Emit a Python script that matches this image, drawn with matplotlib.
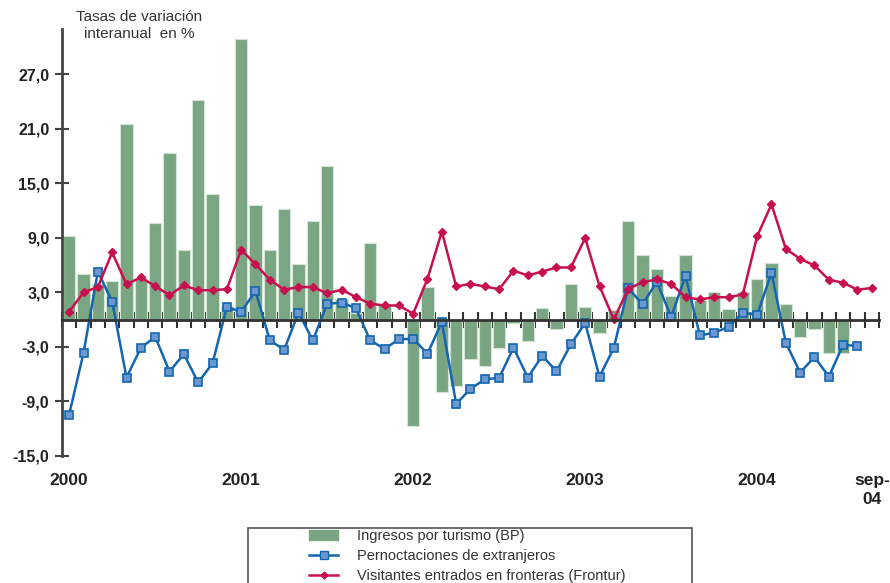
import numpy as np
import matplotlib
matplotlib.use("Agg")
import matplotlib.pyplot as plt
from matplotlib.patches import Rectangle
from matplotlib.lines import Line2D
from matplotlib.patches import Patch

plt.rcParams['font.family'] = ['Liberation Sans', 'DejaVu Sans']

# Monthly data, Jan 2000 - Sep 2004
ingresos = [9.2, 5.05, 3.9, 4.3, 21.5, 4.6, 10.7, 18.3, 7.7, 24.2, 13.8, 1.5,
            30.9, 12.6, 7.65, 12.15, 6.15, 10.9, 16.9, 2.3, 0.77, 8.4, 1.6, -0.15,
            -11.7, 3.65, -8.0, -7.25, -4.3, -5.1, -3.15, -0.33, -2.35, 1.3, -1.0, 3.9,
            1.4, -1.43, 1.1, 10.9, 7.07, 5.6, 2.56, 7.07, 2.2, 3.1, 1.13, 3.1,
            4.46, 6.26, 1.7, -1.9, -1.0, -3.7, -3.7]
pernoctaciones = [-10.44, -3.67, 5.3, 2.0, -6.37, -3.1, -1.87, -5.7, -3.78, -6.9, -4.8, 1.38,
                  0.88, 3.14, -2.27, -3.3, 0.77, -2.27, 1.76, 1.87, 1.28, -2.27, -3.2, -2.16,
                  -2.09, -3.74, -0.26, -9.27, -7.6, -6.56, -6.4, -3.08, -6.37, -3.96, -5.68, -2.71,
                  -0.37, -6.27, -3.1, 3.5, 1.68, 4.18, 0.29, 4.84, -1.72, -1.43, -0.8, 0.77,
                  0.55, 5.16, -2.53, -5.82, -4.1, -6.26, -2.75, -2.9]
frontur = [0.9, 3.0, 3.6, 7.4, 3.9, 4.65, 3.7, 2.7, 3.77, 3.25, 3.25, 3.36,
           7.7, 6.1, 4.4, 3.3, 3.6, 3.6, 2.9, 3.3, 2.5, 1.76, 1.57, 1.57,
           0.66, 4.5, 9.7, 3.66, 3.95, 3.66, 3.36, 5.4, 4.87, 5.3, 5.75, 5.75,
           9.0, 3.7, 0.03, 3.4, 4.13, 4.43, 3.95, 2.48, 2.23, 2.48, 2.48, 2.78,
           9.2, 12.7, 7.8, 6.7, 5.97, 4.4, 4.07, 3.3, 3.5]
n_months = 57
year_labels = ['2000', '2001', '2002', '2003', '2004', 'sep-\n04']
year_label_months = [0, 12, 24, 36, 48, 56]
yticks = [-15, -9, -3, 3, 9, 15, 21, 27]
series_names = ['Ingresos por turismo (BP)', 'Pernoctaciones de extranjeros',
                'Visitantes entrados en fronteras (Frontur)']

W, H = 890, 583
fig = plt.figure(figsize=(W / 100, H / 100), dpi=100)
ax = fig.add_axes([62 / W, 1 - 456 / H, (879 - 62) / W, (456 - 29) / H])

green = '#7aa582'
blue = '#1466b0'
blue_face = '#6d97cf'
red = '#c8104e'
dark = '#222222'

xb = np.arange(len(ingresos)) + 0.5
ax.bar(xb, ingresos, width=0.88, color=green, edgecolor='#d2e4d5', linewidth=0.8, zorder=2)
xp = np.arange(len(pernoctaciones)) + 0.5
ax.plot(xp, pernoctaciones, color=blue, lw=1.8, marker='s', ms=5.8,
        mfc=blue_face, mec=blue, mew=1.2, zorder=4)
xf = np.arange(len(frontur)) + 0.5
ax.plot(xf, frontur, color=red, lw=1.8, marker='D', ms=4.2, mfc=red, mec=red, zorder=5)

ax.set_xlim(0, n_months)
ax.set_ylim(-15, 32)

for s in ['top', 'right']:
    ax.spines[s].set_visible(False)
ax.spines['left'].set_color('#444444')
ax.spines['left'].set_linewidth(2)
ax.spines['bottom'].set_position(('data', 0))
ax.spines['bottom'].set_color('#333333')
ax.spines['bottom'].set_linewidth(2)
ax.spines['bottom'].set_zorder(6)

ax.set_xticks(np.arange(0, n_months + 1))
ax.tick_params(axis='x', direction='inout', length=11, width=1.5, color='#333333',
               labelbottom=False)
ax.set_yticks(yticks)
ax.set_yticklabels([f'{v:.1f}'.replace('.', ',') for v in yticks],
                   fontsize=11.5, fontweight='bold', color=dark)
ax.tick_params(axis='y', direction='inout', length=10, width=1.5, color='#444444', pad=4)

for lab, m in zip(year_labels, year_label_months):
    fig.text((62 + (m + 0.5) * (817 / n_months)) / W, 1 - 473 / H, lab,
             ha='center', va='top', fontsize=12.5, fontweight='bold', color=dark,
             linespacing=1.35)

fig.text(139 / W, 1 - 10 / H, 'Tasas de variación\ninteranual  en %', ha='center', va='top',
         fontsize=11, color='#333333', linespacing=1.3)

# legend frame (bottom runs off the figure)
fig.patches.append(Rectangle((248 / W, 1 - 640 / H), (692 - 248) / W, (640 - 528) / H,
                             transform=fig.transFigure, fill=False, edgecolor='#555555',
                             linewidth=1.2, clip_on=False))
handles = [Patch(facecolor=green, edgecolor=green),
           Line2D([0], [0], color=blue, lw=1.8, marker='s', ms=5.5, mfc=blue_face, mec=blue),
           Line2D([0], [0], color=red, lw=1.8, marker='D', ms=3.5, mfc=red, mec=red)]
fig.legend(handles, series_names, loc='upper left',
           bbox_to_anchor=(309 / W, 1 - 529 / H), frameon=False, fontsize=10.5,
           borderpad=0, borderaxespad=0, handlelength=2.0, handleheight=0.7,
           handletextpad=1.3, labelspacing=0.42, labelcolor='#333333')

fig.savefig('out.png', dpi=100)
